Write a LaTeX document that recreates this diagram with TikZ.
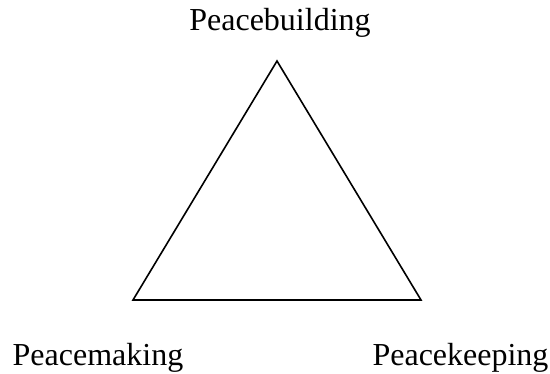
\documentclass[tikz,border=0pt]{standalone}
\usepackage{fontspec}
\setmainfont{Liberation Serif}
\begin{document}
\begin{tikzpicture}[x=1pt,y=-1pt,
  lbl/.style={anchor=base,inner sep=0pt,font=\fontsize{32}{38}\selectfont},
  edge/.style={line width=1.6pt,line join=miter}]
\useasboundingbox (0,0) rectangle (550,373);
\coordinate (top) at (277,61);
\coordinate (bl) at (133,300);
\coordinate (br) at (421,300);
\draw[edge] (top) -- (bl) -- (br) -- cycle;
\node[lbl] (pb) at (280,30.5) {Peacebuilding};
\node[lbl] (pm) at (98,365) {Peacemaking};
\node[lbl] (pk) at (460.5,365) {Peacekeeping};
\end{tikzpicture}
\end{document}
